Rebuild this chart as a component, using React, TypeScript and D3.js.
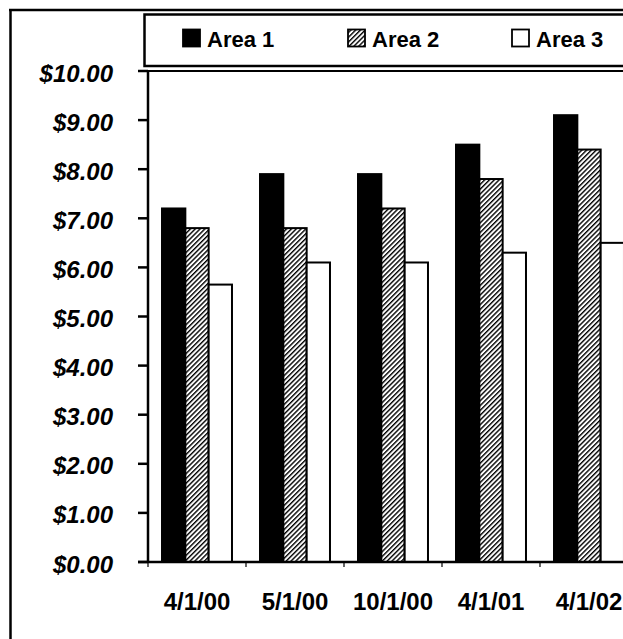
import React from "react";
import * as d3 from "d3";

const categories = ["4/1/00", "5/1/00", "10/1/00", "4/1/01", "4/1/02"];
const seriesNames = ["Area 1", "Area 2", "Area 3"];
const area1 = [7.2, 7.9, 7.9, 8.5, 9.1];
const area2 = [6.8, 6.8, 7.2, 7.8, 8.4];
const area3 = [5.65, 6.1, 6.1, 6.3, 6.5];
const yTicks = [0, 1, 2, 3, 4, 5, 6, 7, 8, 9, 10];

const seriesValues = [area1, area2, area3];

export default function App() {
  const W = 623;
  const H = 639;
  const x0 = 148;
  const step = 98;
  const x = d3
    .scaleBand<string>()
    .domain(categories)
    .range([x0, x0 + step * categories.length])
    .paddingInner(0.286)
    .paddingOuter(0.143);
  const xi = d3.scaleBand<string>().domain(seriesNames).range([0, x.bandwidth()]);
  const y = d3.scaleLinear().domain([0, 10]).range([562, 71]);
  const fmt = (v: number) => "$" + d3.format(".2f")(v);

  const fills = ["#000", "url(#hatch)", "#fff"];
  const legendX = [183, 348, 512];
  const font = "'Liberation Sans', Arial, Helvetica, sans-serif";

  return (
    <svg
      width={W}
      height={H}
      style={{ position: "absolute", left: 0, top: 0, display: "block", background: "#fff" }}
      fontFamily={font}
    >
      <defs>
        <pattern
          id="hatch"
          width={3.4}
          height={3.4}
          patternUnits="userSpaceOnUse"
          patternTransform="rotate(45)"
        >
          <rect width={3.4} height={3.4} fill="#fff" />
          <line x1={0.7} y1={0} x2={0.7} y2={3.4} stroke="#000" strokeWidth={1.4} />
        </pattern>
      </defs>

      {/* outer frame */}
      <line x1={10.5} y1={9.5} x2={10.5} y2={H + 5} stroke="#000" strokeWidth={2.5} />
      <line x1={9} y1={10} x2={W + 5} y2={10} stroke="#000" strokeWidth={2.5} />

      {/* legend box */}
      <rect x={144.5} y={14.5} width={600} height={51.5} fill="#fff" stroke="#000" strokeWidth={2.5} />
      {seriesNames.map((name, i) => (
        <g key={name}>
          <rect
            x={legendX[i]}
            y={29.5}
            width={17}
            height={17}
            fill={fills[i]}
            stroke="#000"
            strokeWidth={1.8}
          />
          <text x={legendX[i] + 24} y={47} fontSize={22} fontWeight="bold" fill="#000">
            {name}
          </text>
        </g>
      ))}

      {/* plot area border */}
      <rect x={x0} y={y(10)} width={600} height={y(0) - y(10)} fill="none" stroke="#000" strokeWidth={2} />

      {/* bars */}
      {seriesValues.map((vals, s) =>
        categories.map((c, i) => {
          const bx = (x(c) as number) + (xi(seriesNames[s]) as number);
          const top = y(vals[i]);
          return (
            <rect
              key={s + "-" + c}
              x={bx}
              y={top}
              width={xi.bandwidth()}
              height={y(0) - top}
              fill={fills[s]}
              stroke="#000"
              strokeWidth={2}
            />
          );
        })
      )}

      {/* y axis */}
      <line x1={x0} y1={y(10)} x2={x0} y2={y(0)} stroke="#000" strokeWidth={2.5} />
      {yTicks.map((t) => (
        <g key={t}>
          <line x1={138} y1={y(t)} x2={x0} y2={y(t)} stroke="#000" strokeWidth={2.5} />
          <text
            x={113}
            y={y(t) + 2}
            textAnchor="end"
            dominantBaseline="central"
            fontSize={24}
            fontWeight="bold"
            fontStyle="italic"
            fill="#000"
          >
            {fmt(t)}
          </text>
        </g>
      ))}

      {/* x axis */}
      <line x1={138} y1={y(0)} x2={W + 5} y2={y(0)} stroke="#000" strokeWidth={2.5} />
      {d3.range(categories.length + 1).map((i) => (
        <line
          key={"xt" + i}
          x1={x0 + i * step}
          y1={y(0)}
          x2={x0 + i * step}
          y2={y(0) + 5}
          stroke="#000"
          strokeWidth={1.2}
        />
      ))}
      {categories.map((c) => (
        <text
          key={"xl" + c}
          x={(x(c) as number) + x.bandwidth() / 2}
          y={610}
          textAnchor="middle"
          fontSize={24}
          fontWeight="bold"
          fill="#000"
        >
          {c}
        </text>
      ))}
    </svg>
  );
}
